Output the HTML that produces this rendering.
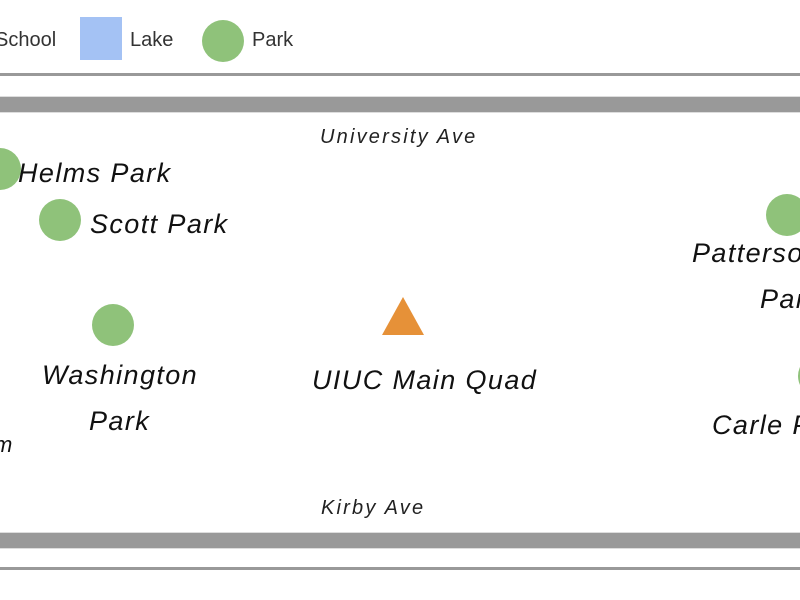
<!DOCTYPE html>
<html><head><style>
body{margin:0;width:800px;height:600px;background:#fff;position:relative;overflow:hidden;font-family:"Liberation Sans",sans-serif}
.a{position:absolute}
.k{position:absolute;overflow:hidden}
.t{position:absolute;font-style:italic;color:#111;font-size:27px;line-height:34px;white-space:nowrap;letter-spacing:1.4px}
.s{position:absolute;font-style:italic;color:#222;font-size:20px;white-space:nowrap;letter-spacing:2.2px}
.c{position:absolute;border-radius:50%;background:#8fc27a}
</style></head><body>
<div class="k" style="left:0;top:25px;width:70px;height:30px"><div class="a" style="left:-5px;top:4px;font-size:20px;color:#333;white-space:nowrap">School</div></div>
<div class="a" style="left:80px;top:17px;width:42px;height:43px;background:#a4c2f4"></div>
<div class="a" style="left:130px;top:29px;font-size:20px;color:#333">Lake</div>
<div class="c" style="left:202px;top:20px;width:42px;height:42px"></div>
<div class="a" style="left:252px;top:29px;font-size:20px;color:#333">Park</div>
<div class="a" style="left:0;top:73px;width:800px;height:3px;background:#999"></div>
<div class="a" style="left:0;top:96px;width:800px;height:15px;background:#999;border-top:1px solid #ddd;border-bottom:1px solid #ddd"></div>
<div class="a" style="left:0;top:532px;width:800px;height:15px;background:#999;border-top:1px solid #ddd;border-bottom:1px solid #ddd"></div>
<div class="a" style="left:0;top:567px;width:800px;height:3px;background:#999"></div>
<div class="s" style="left:320px;top:126px">University Ave</div>
<div class="s" style="left:321px;top:497px">Kirby Ave</div>
<div class="k" style="left:0;top:148px;width:21px;height:42px"><div class="c" style="left:-21px;top:0;width:42px;height:42px"></div></div>
<div class="t" style="left:18px;top:156px">Helms Park</div>
<div class="c" style="left:39px;top:199px;width:42px;height:42px"></div>
<div class="t" style="left:90px;top:207px">Scott Park</div>
<div class="c" style="left:92px;top:304px;width:42px;height:42px"></div>
<div class="t" style="left:42px;top:358px">Washington</div>
<div class="t" style="left:89px;top:404px">Park</div>
<div class="k" style="left:0;top:428px;width:30px;height:34px"><div class="t" style="left:-6px;top:0;font-size:22px">m</div></div>
<svg class="a" style="left:382px;top:297px" width="44" height="40"><polygon points="21,0 42,38 0,38" fill="#e69138"/></svg>
<div class="t" style="left:312px;top:363px">UIUC Main Quad</div>
<div class="k" style="left:766px;top:194px;width:34px;height:42px"><div class="c" style="left:0;top:0;width:42px;height:42px"></div></div>
<div class="k" style="left:692px;top:236px;width:108px;height:34px"><div class="t" style="left:0;top:0">Patterson</div></div>
<div class="k" style="left:760px;top:282px;width:40px;height:34px"><div class="t" style="left:0;top:0">Park</div></div>
<div class="k" style="left:798px;top:355px;width:2px;height:42px"><div class="c" style="left:0;top:0;width:42px;height:42px"></div></div>
<div class="k" style="left:712px;top:408px;width:88px;height:34px"><div class="t" style="left:0;top:0">Carle Park</div></div>
</body></html>
